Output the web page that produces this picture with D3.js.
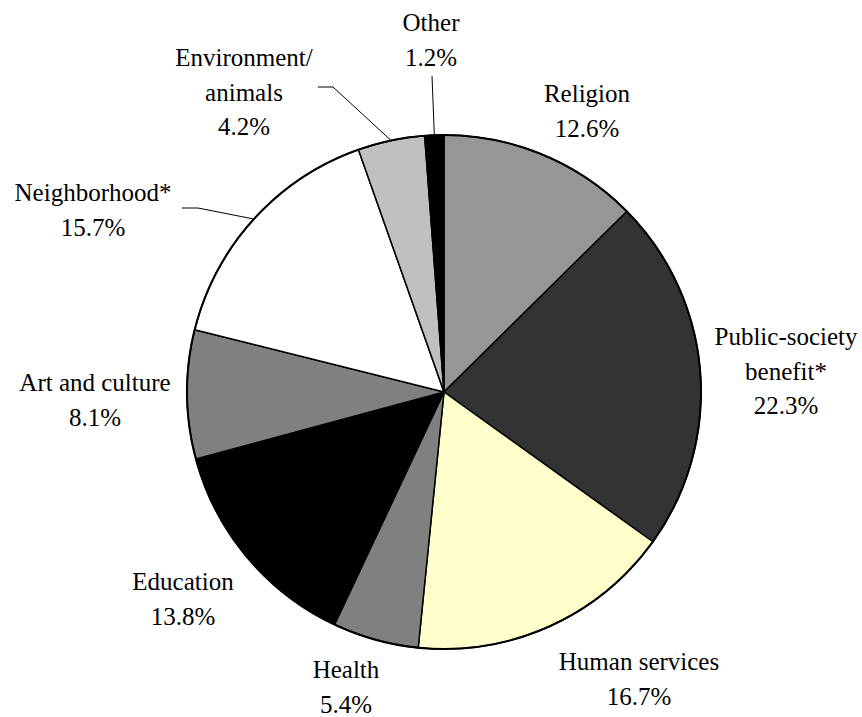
<!DOCTYPE html>
<html>
<head>
<meta charset="utf-8">
<script src="https://cdn.jsdelivr.net/npm/d3@7"></script>
<style>
  body { margin: 0; background: #fff; }
  .lbl { font-family: 'Liberation Serif', Tinos, Times, 'DejaVu Serif', serif; font-size: 25px; fill: #000; }
</style>
</head>
<body>
<div id="chart"></div>
<script>
// slices, clockwise from 12 o'clock
const categories = ['Religion', 'Public-society benefit*', 'Human services', 'Health', 'Education',
  'Art and culture', 'Neighborhood*', 'Environment/ animals', 'Other'];
const labelLines = [
  ['Religion'], ['Public-society', 'benefit*'], ['Human services'], ['Health'], ['Education'],
  ['Art and culture'], ['Neighborhood*'], ['Environment/', 'animals'], ['Other'],
];
const shares = [12.6, 22.3, 16.7, 5.4, 13.8, 8.1, 15.7, 4.2, 1.2];
const fills = ['#969696', '#333333', '#ffffcc', '#808080', '#000000', '#808080', '#ffffff', '#c0c0c0', '#000000'];

// where each label block is centred (first line), picked to match the original layout
const labelAt = [
  [587, 93], [786, 336], [639, 661], [346, 669], [183, 581],
  [95, 382], [93, 192], [244, 57], [431, 22],
];
// leader lines for the small / crowded slices: label-side end points
const leaders = { 6: [[182, 208], [198, 208]], 7: [[318, 87], [333, 87]], 8: [[432, 76]] };

const width = 862;
const height = 717;
const cx = 444;
const cy = 392;
const radius = 257;
const lineH = 34.5;

const svg = d3.select('#chart')
  .append('svg')
  .attr('width', width)
  .attr('height', height);

const pie = d3.pie().sort(null).value(d => d);
const arcs = pie(shares);
const arc = d3.arc().innerRadius(0).outerRadius(radius);

const g = svg.append('g').attr('transform', `translate(${cx}, ${cy})`);

g.selectAll('.slice')
  .data(arcs)
  .enter()
  .append('path')
  .attr('class', 'slice')
  .attr('d', arc)
  .attr('fill', (d, i) => fills[i])
  .attr('stroke', '#000')
  .attr('stroke-width', 1.5)
  .attr('stroke-linejoin', 'round');

// outer rim a bit heavier like the original
g.append('circle')
  .attr('r', radius)
  .attr('fill', 'none')
  .attr('stroke', '#000')
  .attr('stroke-width', 2);

// leader lines end on the rim at the slice's middle angle
Object.keys(leaders).forEach(k => {
  const a = arcs[+k];
  const mid = (a.startAngle + a.endAngle) / 2;
  const rim = [cx + radius * Math.sin(mid), cy - radius * Math.cos(mid)];
  const pts = leaders[k].concat([rim]);
  svg.append('path')
    .attr('d', d3.line()(pts))
    .attr('fill', 'none')
    .attr('stroke', '#000')
    .attr('stroke-width', 1);
});

const labels = svg.selectAll('.lbl')
  .data(arcs)
  .enter()
  .append('text')
  .attr('class', 'lbl')
  .attr('text-anchor', 'middle')
  .attr('dominant-baseline', 'central');

labels.each(function (d, i) {
  const t = d3.select(this);
  const lines = labelLines[i].concat([`${shares[i].toFixed(1)}%`]);
  lines.forEach((s, j) => {
    t.append('tspan')
      .attr('x', labelAt[i][0])
      .attr('y', labelAt[i][1] + j * lineH)
      .text(s);
  });
});
</script>
</body>
</html>
